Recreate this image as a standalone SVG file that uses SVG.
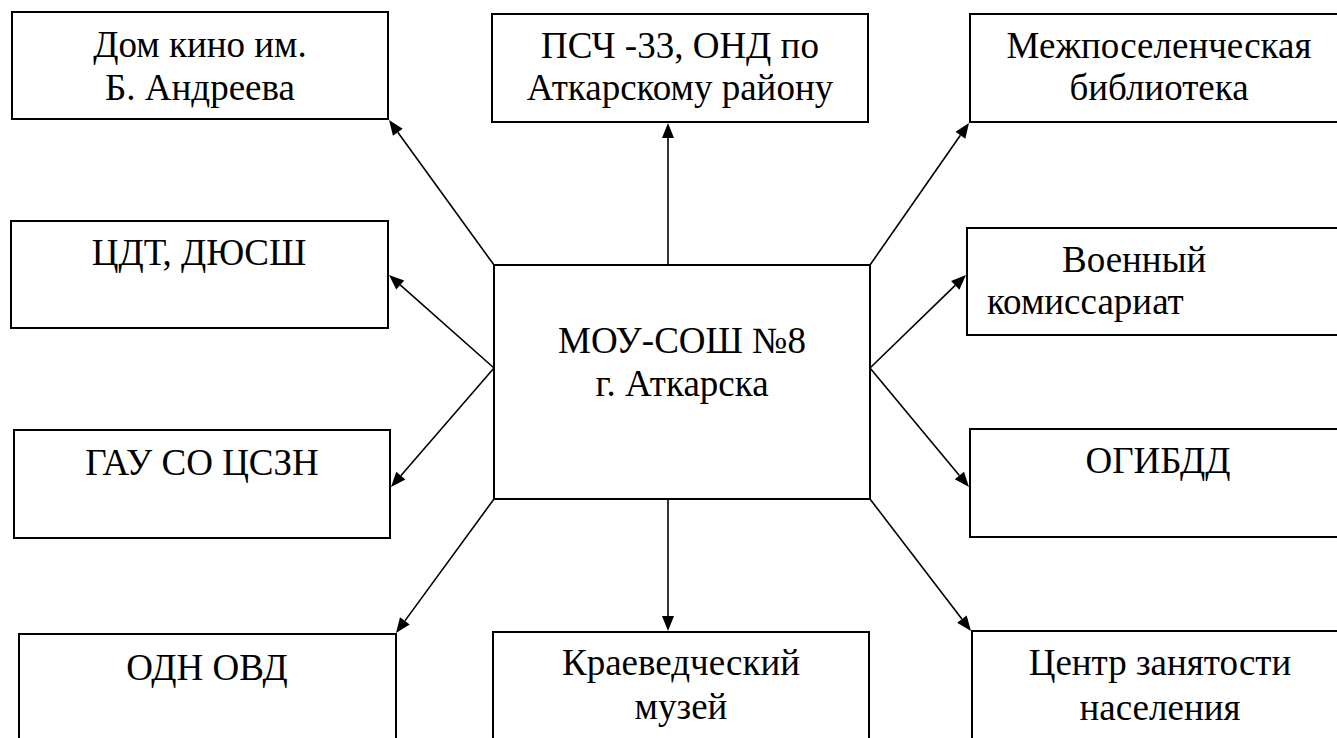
<svg xmlns="http://www.w3.org/2000/svg" width="1337" height="738" viewBox="0 0 1337 738">
<rect width="1337" height="738" fill="#fff"/>
<g id="connectors" stroke="#000" stroke-width="1.6" fill="none">
<line x1="494" y1="265" x2="397.8" y2="132.2"/>
<line x1="668" y1="265" x2="668" y2="138"/>
<line x1="870" y1="265" x2="960.4" y2="135.3"/>
<line x1="494" y1="368" x2="400.2" y2="284.9"/>
<line x1="494" y1="368" x2="400.8" y2="475.7"/>
<line x1="870" y1="368" x2="955.2" y2="285.4"/>
<line x1="870" y1="368" x2="959.4" y2="475.5"/>
<line x1="494" y1="499" x2="404.9" y2="620.9"/>
<line x1="668" y1="500" x2="668" y2="616"/>
<line x1="870" y1="499" x2="961.9" y2="619.1"/>
</g>
<g id="arrowheads" fill="#000" stroke="none">
<polygon points="389,120 402.66,128.63 392.94,135.67"/>
<polygon points="668,123 662,138 674,138"/>
<polygon points="969,123 965.34,138.73 955.50,131.87"/>
<polygon points="389,275 404.21,280.45 396.25,289.43"/>
<polygon points="391,487 396.28,471.73 405.36,479.59"/>
<polygon points="966,275 959.40,289.74 951.06,281.12"/>
<polygon points="969,487 954.80,479.31 964.02,471.63"/>
<polygon points="396,633 400.02,617.35 409.70,624.43"/>
<polygon points="668,631 662,616 674,616"/>
<polygon points="971,631 957.11,622.74 966.65,615.44"/>
</g>
<g id="n-center">
<rect x="494" y="265" width="376" height="234" fill="#fff" stroke="#000" stroke-width="2"/>
<text x="682" y="353" text-anchor="middle" font-family="Liberation Serif" font-size="37">МОУ-СОШ №8</text>
<text x="682" y="396" text-anchor="middle" font-family="Liberation Serif" font-size="37">г. Аткарска</text>
</g>
<g id="n-domkino">
<rect x="12" y="12" width="376" height="107" fill="#fff" stroke="#000" stroke-width="2"/>
<text x="200" y="57" text-anchor="middle" font-family="Liberation Serif" font-size="37">Дом кино им.</text>
<text x="200" y="100" text-anchor="middle" font-family="Liberation Serif" font-size="37">Б. Андреева</text>
</g>
<g id="n-psch">
<rect x="492" y="14" width="376" height="108" fill="#fff" stroke="#000" stroke-width="2"/>
<text x="680" y="58" text-anchor="middle" font-family="Liberation Serif" font-size="37">ПСЧ -33, ОНД по</text>
<text x="680" y="100" text-anchor="middle" font-family="Liberation Serif" font-size="37">Аткарскому району</text>
</g>
<g id="n-biblioteka">
<rect x="970" y="14" width="380" height="108" fill="#fff" stroke="#000" stroke-width="2"/>
<text x="1159" y="58" text-anchor="middle" font-family="Liberation Serif" font-size="37">Межпоселенческая</text>
<text x="1159" y="100" text-anchor="middle" font-family="Liberation Serif" font-size="37">библиотека</text>
</g>
<g id="n-cdt">
<rect x="11" y="221" width="377" height="107" fill="#fff" stroke="#000" stroke-width="2"/>
<text x="199" y="265" text-anchor="middle" font-family="Liberation Serif" font-size="37">ЦДТ, ДЮСШ</text>
</g>
<g id="n-voenkomat">
<rect x="967" y="228" width="383" height="107" fill="#fff" stroke="#000" stroke-width="2"/>
<text x="1062" y="272" font-family="Liberation Serif" font-size="37">Военный</text>
<text x="987" y="314" font-family="Liberation Serif" font-size="37">комиссариат</text>
</g>
<g id="n-gau">
<rect x="14" y="430" width="376" height="108" fill="#fff" stroke="#000" stroke-width="2"/>
<text x="202" y="475" text-anchor="middle" font-family="Liberation Serif" font-size="37">ГАУ СО ЦСЗН</text>
</g>
<g id="n-ogibdd">
<rect x="970" y="429" width="380" height="108" fill="#fff" stroke="#000" stroke-width="2"/>
<text x="1158" y="473" text-anchor="middle" font-family="Liberation Serif" font-size="37">ОГИБДД</text>
</g>
<g id="n-odn">
<rect x="19" y="634" width="377" height="120" fill="#fff" stroke="#000" stroke-width="2"/>
<text x="207" y="680" text-anchor="middle" font-family="Liberation Serif" font-size="37">ОДН ОВД</text>
</g>
<g id="n-muzey">
<rect x="493" y="632" width="376" height="120" fill="#fff" stroke="#000" stroke-width="2"/>
<text x="681" y="675" text-anchor="middle" font-family="Liberation Serif" font-size="37">Краеведческий</text>
<text x="681" y="719" text-anchor="middle" font-family="Liberation Serif" font-size="37">музей</text>
</g>
<g id="n-czn">
<rect x="972" y="631" width="380" height="120" fill="#fff" stroke="#000" stroke-width="2"/>
<text x="1160" y="675" text-anchor="middle" font-family="Liberation Serif" font-size="37">Центр занятости</text>
<text x="1160" y="720" text-anchor="middle" font-family="Liberation Serif" font-size="37">населения</text>
</g>
</svg>
